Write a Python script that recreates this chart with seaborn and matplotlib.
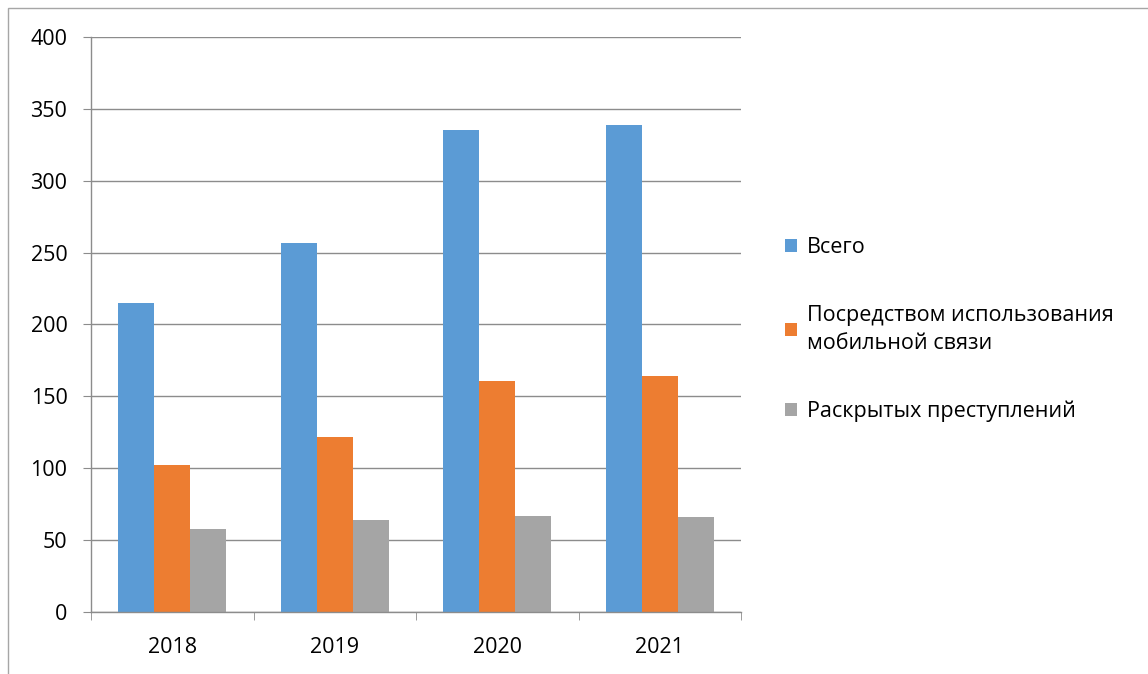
import pandas as pd
import matplotlib
matplotlib.use('Agg')
import matplotlib.pyplot as plt
from matplotlib.patches import Rectangle
import seaborn as sns

# Chart data
years = ['2018', '2019', '2020', '2021']
total = [215, 257, 335, 339]
mobile = [102, 122, 161, 164]
solved = [58, 64, 67, 66]

series_names = ['Всего', 'Посредством использования\nмобильной связи', 'Раскрытых преступлений']
colors = ['#5B9BD5', '#ED7D31', '#A5A5A5']

df = pd.DataFrame({
    'year': years * 3,
    'value': total + mobile + solved,
    'series': [series_names[0]] * 4 + [series_names[1]] * 4 + [series_names[2]] * 4,
})

sns.set_style('white')
plt.rcParams['font.family'] = ['Open Sans', 'DejaVu Sans']
plt.rcParams['text.color'] = 'black'
plt.rcParams['xtick.color'] = 'black'
plt.rcParams['ytick.color'] = 'black'

grid_col = '#8C8C8C'
fs = 15.5

fig = plt.figure(figsize=(11.48, 6.74), dpi=100)
ax = fig.add_axes([0.0793, 0.092, 0.5662, 0.8531])

sns.barplot(data=df, x='year', y='value', hue='series', palette=colors,
            width=0.667, saturation=1, errorbar=None, ax=ax, linewidth=0)

ax.set_ylim(0, 400)
ax.set_yticks(range(0, 401, 50))
ax.set_xlim(-0.5, 3.5)
ax.set_xlabel('')
ax.set_ylabel('')

# gridlines and spines
ax.set_axisbelow(True)
ax.yaxis.grid(True, color=grid_col, linewidth=1.0)
for side in ['top', 'right']:
    ax.spines[side].set_visible(False)
for side in ['left', 'bottom']:
    ax.spines[side].set_color(grid_col)
    ax.spines[side].set_linewidth(1.0)

# ticks: y outward, x ticks at category boundaries
ax.tick_params(axis='y', which='major', length=6, color=grid_col, labelcolor='black',
               labelsize=fs, pad=11, left=True)
ax.set_xticks([-0.5, 0.5, 1.5, 2.5, 3.5], minor=True)
ax.tick_params(axis='x', which='minor', length=6, color=grid_col, bottom=True)
ax.tick_params(axis='x', which='major', length=0, labelcolor='black', labelsize=fs, pad=18)

# legend on the right
leg = ax.legend(loc='center left', bbox_to_anchor=(1.055, 0.491), frameon=False,
                fontsize=fs, handlelength=0.55, handleheight=0.55, handletextpad=0.45,
                labelspacing=2.2, borderaxespad=0)
for t in leg.get_texts():
    t.set_linespacing(1.4)

# outer chart border
fig.patches.append(Rectangle((8 / 1148, -0.02), 1.1, (674 - 8) / 674 + 0.02,
                             transform=fig.transFigure, fill=False,
                             edgecolor='#A6A6A6', linewidth=1.0))

fig.savefig('out.png', dpi=100)
